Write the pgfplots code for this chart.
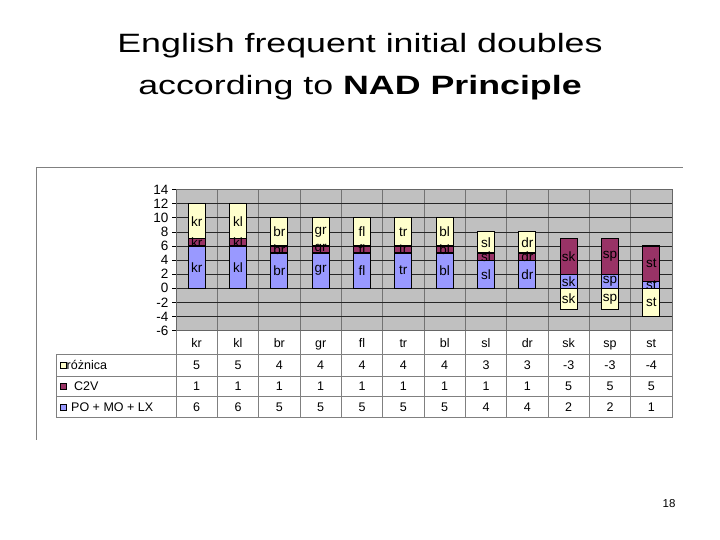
\documentclass[border=0pt]{standalone}
\usepackage{pgfplots}
\pgfplotsset{compat=1.18}
\usepackage{pgfplotstable}
\usepackage{fontspec}
\setmainfont{Liberation Sans}

\definecolor{plotgray}{RGB}{192,192,192}
\definecolor{cyel}{RGB}{255,255,204}
\definecolor{cmar}{RGB}{153,51,102}
\definecolor{cblu}{RGB}{153,153,255}
\definecolor{tline}{RGB}{128,128,128}

\newcommand\chartfont{\fontsize{12.5}{14}\selectfont}
\newcommand\barfont{\fontsize{13.5}{15}\selectfont}
\newcommand\titlefont{\fontsize{26.5}{30}\selectfont}

% x lab: onset; po = PO+MO+LX, c2v = C2V, roz = roznica
\pgfplotstableread{
x lab po c2v roz
0 kr 6 1 5
1 kl 6 1 5
2 br 5 1 4
3 gr 5 1 4
4 fl 5 1 4
5 tr 5 1 4
6 bl 5 1 4
7 sl 4 1 3
8 dr 4 1 3
9 sk 2 5 -3
10 sp 2 5 -3
11 st 1 5 -4
}\data

\pgfplotsset{
  nadaxis/.style={
    at={(176pt,209.3pt)}, anchor=south west, scale only axis,
    width=496pt, height=141.2pt,
    xmin=-0.5, xmax=11.5, ymin=-6, ymax=14,
    bar width=17pt,
    point meta=explicit symbolic,
    nodes near coords,
    every node near coord/.append style={anchor=center, font=\barfont,
      inner sep=0pt, shift={(axis direction cs:0,-\rawy/2)}},
  },
}

\begin{document}
\begin{tikzpicture}
\path[use as bounding box] (0,0) rectangle (720pt,540pt);

% title
\node[anchor=base, font=\titlefont, xscale=1.35, transform shape] at (360pt,487pt)
  {English frequent initial doubles};
\node[anchor=base, font=\titlefont, xscale=1.35, transform shape] at (360pt,445pt)
  {according to \textbf{NAD Principle}};

% chart frame
\draw[tline, line width=0.8pt] (36pt,100pt) -- (36pt,373pt) -- (683pt,373pt);

\begin{axis}[
  nadaxis,
  ybar stacked,
  axis background/.style={fill=plotgray},
  xtick={0,...,11}, xticklabels={}, xtick style={draw=none},
  minor xtick={0.5,1.5,...,10.5}, xminorgrids,
  minor x tick style={draw=none},
  minor grid style={black!55, line width=0.7pt},
  ytick={-6,-4,...,14}, ymajorgrids,
  major grid style={black!85, line width=0.6pt},
  ytick pos=left, tick align=outside, major tick length=4pt,
  y tick style={black, line width=0.6pt},
  axis line style={black!60, line width=0.7pt},
  yticklabel style={font=\fontsize{13.5}{15}\selectfont},
  /pgf/number format/assume math mode=true,
]
\addplot[fill=cblu, draw=black, line width=1.1pt,
  visualization depends on=\thisrow{po} \as \rawy]
  table[x=x, y=po, meta=lab] {\data};
\addplot[fill=cmar, draw=black, line width=1.1pt,
  visualization depends on=\thisrow{c2v} \as \rawy]
  table[x=x, y=c2v, meta=lab] {\data};
\addplot[fill=cyel, draw=black, line width=1.1pt, restrict x to domain=0:8,
  visualization depends on=\thisrow{roz} \as \rawy]
  table[x=x, y=roz, meta=lab] {\data};
\end{axis}

\begin{axis}[
  nadaxis,
  ybar, bar shift=0pt,
  hide axis,
]
\addplot[fill=cyel, draw=black, line width=1.1pt, restrict x to domain=9:11,
  visualization depends on=\thisrow{roz} \as \rawy]
  table[x=x, y=roz, meta=lab] {\data};
\end{axis}

% data table below the plot
\begin{scope}[tline, line width=0.8pt]
  \draw (56pt,185.7pt) -- (672pt,185.7pt);
  \draw (56pt,164pt) -- (672pt,164pt);
  \draw (56pt,143.3pt) -- (672pt,143.3pt);
  \draw (56pt,122.3pt) -- (672pt,122.3pt);
  \draw (56pt,185.7pt) -- (56pt,122.3pt);
  \foreach \k in {0,...,12}
    \draw ({176pt+\k*41.333pt},209.3pt) -- ({176pt+\k*41.333pt},122.3pt);
\end{scope}

\foreach \i in {0,...,11} {
  \pgfmathsetmacro\cx{176+(\i+0.5)*41.333}
  \pgfplotstablegetelem{\i}{lab}\of\data
  \node[font=\chartfont, anchor=base] at (\cx pt,192.7pt) {\pgfplotsretval};
  \pgfplotstablegetelem{\i}{roz}\of\data
  \node[font=\chartfont, anchor=base] at (\cx pt,170pt) {\pgfplotsretval};
  \pgfplotstablegetelem{\i}{c2v}\of\data
  \node[font=\chartfont, anchor=base] at (\cx pt,149pt) {\pgfplotsretval};
  \pgfplotstablegetelem{\i}{po}\of\data
  \node[font=\chartfont, anchor=base] at (\cx pt,128.3pt) {\pgfplotsretval};
}

% legend keys in the table's first column
\draw[fill=cyel, line width=0.6pt] (60pt,171.3pt) rectangle (66pt,177.3pt);
\draw[fill=cmar, line width=0.6pt] (60pt,150.3pt) rectangle (66pt,156.3pt);
\draw[fill=cblu, line width=0.6pt] (60pt,129.6pt) rectangle (66pt,135.6pt);
\node[font=\chartfont, anchor=base west, inner sep=0pt] at (66.5pt,170pt) {różnica};
\node[font=\chartfont, anchor=base west, inner sep=0pt] at (74pt,149pt) {C2V};
\node[font=\chartfont, anchor=base west, inner sep=0pt] at (71pt,128.3pt) {PO + MO + LX};

% slide number
\node[font=\fontsize{11.5}{13}\selectfont] at (669pt,36pt) {18};
\end{tikzpicture}
\end{document}
